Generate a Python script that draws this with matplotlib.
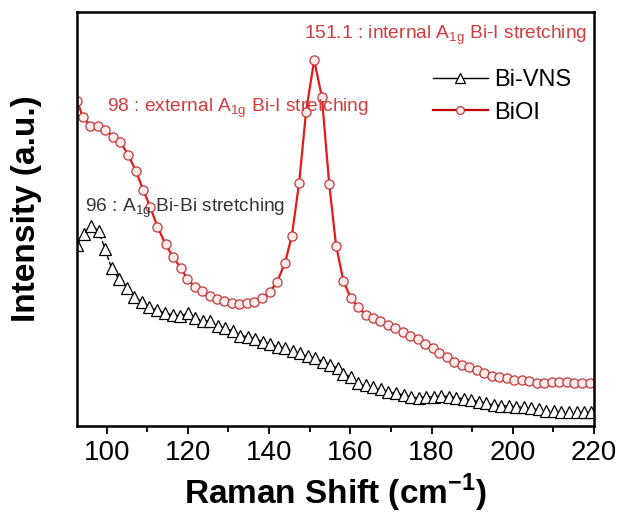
import matplotlib
matplotlib.use('Agg')
import matplotlib.pyplot as plt
from matplotlib.ticker import MultipleLocator

plt.rcParams['font.family'] = ['Liberation Sans', 'DejaVu Sans']
plt.rcParams['mathtext.fontset'] = 'custom'
plt.rcParams['mathtext.rm'] = 'Liberation Sans'
plt.rcParams['mathtext.bf'] = 'Liberation Sans:bold'

# Bi-VNS (triangles)
x_bivns = [92.7, 94.3, 96.1, 98.0, 99.6, 101.2, 103.1, 104.9, 106.8, 108.6, 110.5, 112.5, 114.4,
           116.3, 118.1, 120.0, 121.8, 123.7, 125.5, 127.4, 129.2, 131.1, 132.9, 134.8, 136.6,
           138.5, 140.3, 142.2, 144.0, 145.9, 147.7, 149.6, 151.4, 153.3, 155.1, 157.0, 158.3,
           160.1, 162.0, 163.8, 165.7, 167.5, 169.4, 171.2, 173.1, 175.0, 176.8, 178.7, 180.5,
           182.4, 184.2, 186.1, 187.9, 189.8, 191.6, 193.5, 195.3, 197.2, 199.0, 200.9, 202.7,
           204.6, 206.4, 208.3, 210.1, 212.0, 213.8, 215.7, 217.5, 219.3]
y_bivns = [181, 192, 200.3, 195.3, 177, 157.7, 146.7, 137.7, 129.3, 124.3, 118.7, 116, 112.7,
           111, 110, 112.7, 107.7, 105.3, 105, 100, 97.7, 95, 90.3, 89.3, 86.7,
           84.3, 81.7, 79.3, 77.7, 75, 72.7, 70, 67.7, 64.3, 61, 57.7, 52,
           49.3, 43.3, 41, 39.3, 37, 34.3, 32.7, 31, 29.3, 27.7, 29.3, 29.3,
           30, 29.3, 28.3, 27, 26, 24.3, 22.7, 21, 20.3, 20, 19.3, 18.7,
           17.7, 16.7, 15.3, 15, 14.3, 14.3, 14.3, 14.3, 14.3]

# BiOI (circles)
x_bioi = [92.7, 94.1, 96.0, 97.9, 99.7, 101.6, 103.4, 105.3, 107.2, 109.0, 110.7, 112.5, 114.5,
          116.4, 118.3, 119.9, 121.7, 123.5, 125.4, 127.2, 128.9, 130.9, 132.7, 134.5, 136.4,
          138.3, 140.2, 141.9, 143.9, 145.6, 147.4, 149.1, 151.1, 153.0, 154.8, 156.5, 158.3,
          160.1, 162.0, 163.8, 165.5, 167.3, 169.2, 171.0, 172.9, 174.7, 176.6, 178.4, 180.3,
          181.9, 183.8, 185.6, 187.5, 189.3, 191.1, 193.0, 194.8, 196.7, 198.5, 200.3, 202.2,
          204.0, 205.9, 207.8, 209.6, 211.5, 213.3, 215.2, 217.0, 218.9]
y_bioi = [325.3, 309.3, 300.3, 300.3, 296, 289.3, 283.7, 271.3, 255, 236, 219.3, 199.3, 181.7,
          168.7, 157.7, 146.7, 139.3, 135, 130, 126.7, 125.3, 123.3, 121.7, 122.7, 124.3,
          127.7, 134.3, 143.7, 162.7, 190.3, 243.3, 314.3, 366, 328.7, 242, 180, 145.3,
          127.7, 118.7, 111, 107.7, 105, 101, 97.7, 93.7, 90.3, 87, 82, 78.3,
          72.7, 68.7, 63.7, 61, 58.7, 56, 52.7, 50.3, 49.3, 47.7, 46, 46,
          45.3, 43.3, 43.3, 43.7, 43.7, 43.7, 43.3, 42.7, 43.3]

fig = plt.figure(figsize=(6.21, 5.22), dpi=100)
ax = fig.add_axes([0.124, 0.184, 0.8325, 0.793])

ax.plot(x_bivns, y_bivns, color='black', lw=1.0, marker='^', ms=8, ls='--',
        mfc='white', mec='black', mew=0.9, label='Bi-VNS')
ax.plot(x_bioi, y_bioi, color='#e41a1c', lw=1.6, marker='o', ms=6.6,
        mfc='#fdeaea', mec='#c0393b', mew=0.9, label='BiOI')

ax.set_xlim(92.7, 220)
ax.set_ylim(0, 414)
ax.xaxis.set_major_locator(MultipleLocator(20))
ax.xaxis.set_minor_locator(MultipleLocator(10))
ax.set_yticks([])
ax.tick_params(axis='x', which='major', direction='out', length=6, width=1.3, labelsize=20, pad=4)
ax.tick_params(axis='x', which='minor', direction='out', length=4, width=1.3)
for sp in ax.spines.values():
    sp.set_linewidth(1.8)

ax.set_xlabel('Raman Shift (cm$^{\\mathbf{-1}}$)', fontsize=24, fontweight='bold', labelpad=4)
ax.set_ylabel('Intensity (a.u.)', fontsize=24, fontweight='bold')
ax.yaxis.set_label_coords(-0.068, 0.525)

# peak annotations
ax.text(148.6, 387, '151.1 : internal A$_\\mathregular{1g}$ Bi-I stretching',
        color='#d23b3b', fontsize=13.8)
ax.text(100.0, 314, '98 : external A$_\\mathregular{1g}$ Bi-I stretching',
        color='#d23b3b', fontsize=13.8)
ax.text(94.6, 214, '96 : A$_\\mathregular{1g}$ Bi-Bi stretching',
        color='#333333', fontsize=13.8)

leg = ax.legend(loc='upper left', bbox_to_anchor=(0.689, 0.862), frameon=False, fontsize=17,
                handlelength=2.3, handletextpad=0.3, labelspacing=0.45, borderpad=0,
                borderaxespad=0)
leg.legend_handles[0].set_linestyle('-')
leg.legend_handles[0].set_markersize(7)
leg.legend_handles[1].set_color('#c00000')
leg.legend_handles[1].set_markerfacecolor('#fdeaea')
leg.legend_handles[1].set_markeredgecolor('#c0393b')
leg.legend_handles[1].set_markersize(5.6)

fig.savefig('out.png', dpi=100)
